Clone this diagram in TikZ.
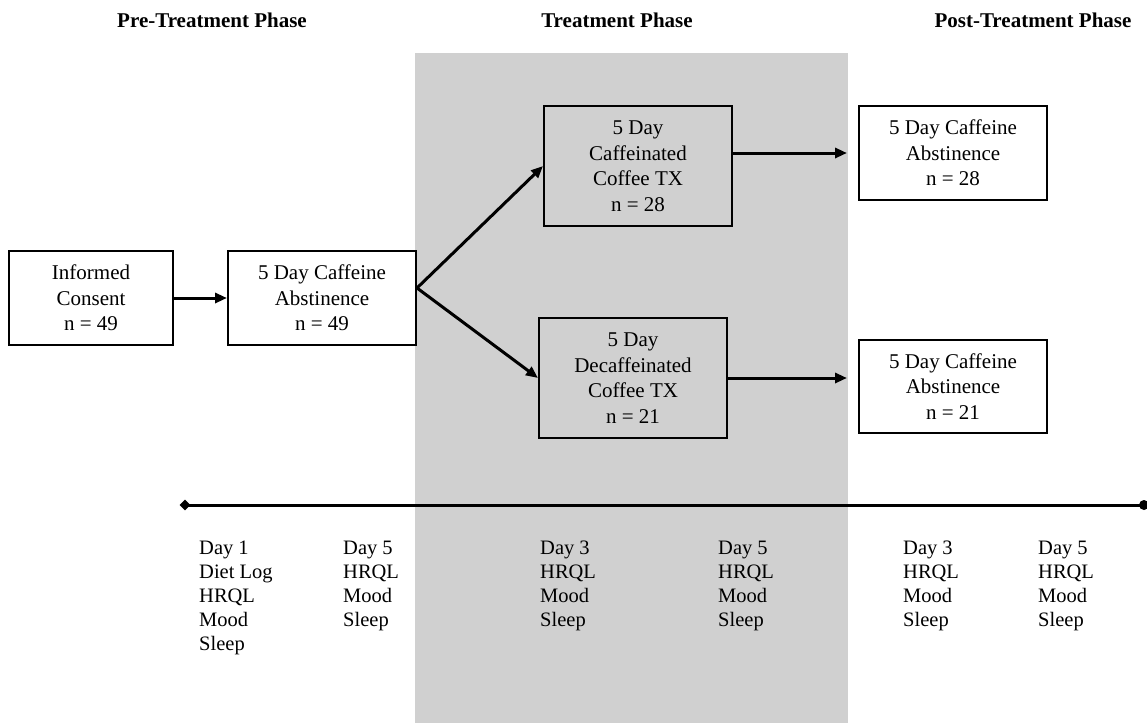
\documentclass[tikz,border=0pt]{standalone}
\usepackage{fontspec}
\setmainfont{Liberation Serif}
\usetikzlibrary{arrows.meta,shapes.geometric}
\definecolor{bandgray}{RGB}{208,208,208}
\begin{document}
\begin{tikzpicture}[x=1pt,y=-1pt,
  box/.style={draw=black, line width=2pt, minimum width=188pt, minimum height=94pt, align=center, inner sep=0pt, font=\fontsize{21}{25.5}\selectfont},
  arr/.style={line width=3pt, -{Triangle[length=12pt,width=10pt]}},
  phase/.style={font=\bfseries\fontsize{21}{24}\selectfont, inner sep=0pt},
  tl/.style={anchor=north west, inner sep=0pt, align=left, font=\fontsize{20.5}{24}\selectfont}]
\useasboundingbox (0,0) rectangle (1147,723);
\fill[bandgray] (415,53) rectangle (848,723);
% phase titles
\node[phase] (t1) at (212,20) {Pre-Treatment Phase};
\node[phase] (t2) at (617,20) {Treatment Phase};
\node[phase] (t3) at (1033,20) {Post-Treatment Phase};
% boxes
\node[box, fill=white, minimum width=164pt] (consent) at (91,298) {Informed\\Consent\\n = 49};
\node[box, fill=white] (abst) at (322,298) {5 Day Caffeine\\Abstinence\\n = 49};
\node[box, fill=bandgray, minimum height=120pt] (caff) at (638,166) {5 Day\\Caffeinated\\Coffee TX\\n = 28};
\node[box, fill=bandgray, minimum height=120pt] (decaf) at (633,378) {5 Day\\Decaffeinated\\Coffee TX\\n = 21};
\node[box, fill=white] (post1) at (953,153) {5 Day Caffeine\\Abstinence\\n = 28};
\node[box, fill=white, minimum height=93pt] (post2) at (953,386.5) {5 Day Caffeine\\Abstinence\\n = 21};
% connectors
\coordinate (br) at ([yshift=10pt]abst.east);
\draw[arr] (consent) -- (abst);
\draw[arr, line cap=round] (br) -- (caff.west);
\draw[arr, line cap=round] (br) -- (decaf.west);
\draw[arr, shorten >=11pt] (caff.east |- post1.west) -- (post1.west);
\draw[arr, shorten >=11pt] (decaf.east) -- (decaf.east -| post2.west);
% timeline
\node[diamond, fill=black, inner sep=0pt, minimum size=11pt] (dL) at (185,505) {};
\node[circle, fill=black, inner sep=0pt, minimum size=10pt] (dR) at (1144,505) {};
\draw[line width=3pt] (dL.center) -- (dR.center);
% timeline labels
\node[tl] (m1) at (199,541) {Day 1\\Diet Log\\HRQL\\Mood\\Sleep};
\node[tl] (m2) at (343,541) {Day 5\\HRQL\\Mood\\Sleep};
\node[tl] (m3) at (540,541) {Day 3\\HRQL\\Mood\\Sleep};
\node[tl] (m4) at (718,541) {Day 5\\HRQL\\Mood\\Sleep};
\node[tl] (m5) at (903,541) {Day 3\\HRQL\\Mood\\Sleep};
\node[tl] (m6) at (1038,541) {Day 5\\HRQL\\Mood\\Sleep};
\end{tikzpicture}
\end{document}
